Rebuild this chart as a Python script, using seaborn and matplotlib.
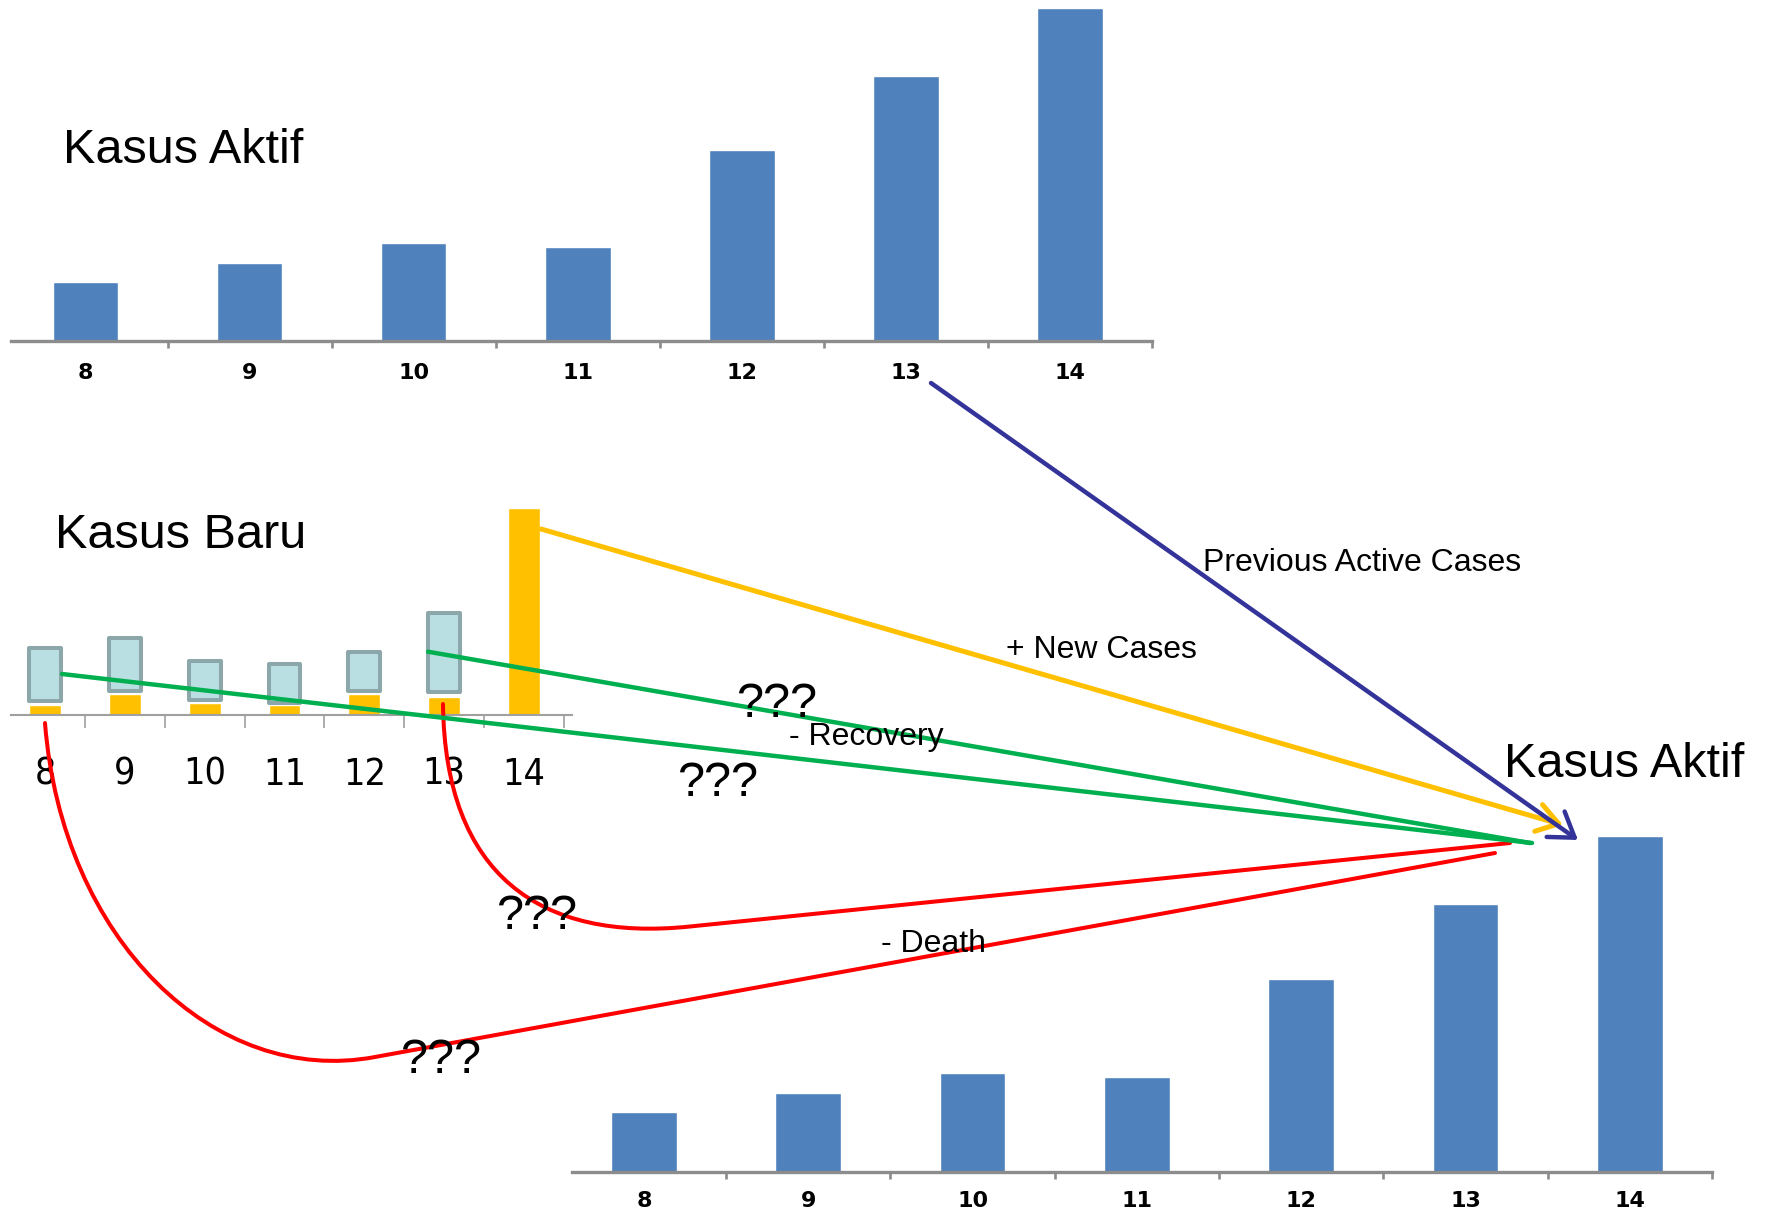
import numpy as np
import matplotlib
matplotlib.use("Agg")
import matplotlib.pyplot as plt
import seaborn as sns
from matplotlib.path import Path
from matplotlib.patches import PathPatch, FancyArrowPatch, ArrowStyle

# data (arbitrary units)
days = ["8", "9", "10", "11", "12", "13", "14"]
active_cases = [53, 70, 87, 84, 170, 236, 296]
new_cases = [10, 21, 12, 10, 21, 18, 207]
box_bottom = [14, 24, 15, 12, 24, 23]
box_top = [67, 77, 54, 51, 63, 102]

W, H = 1767, 1213
blue = "#4F81BD"
orange = "#FFC000"
green = "#00B050"
red = "#FF0000"
navy = "#333399"

sns.set_theme(style="white")
plt.rcParams['font.family'] = ['Liberation Sans', 'DejaVu Sans']
plt.rcParams['text.color'] = 'black'

fig = plt.figure(figsize=(W / 100, H / 100), dpi=100)


def bar_axes(px_left, px_right, px_base, px_height):
    ax = fig.add_axes([px_left / W, (H - px_base) / H, (px_right - px_left) / W, px_height / H])
    ax.patch.set_alpha(0)
    for s in ["top", "right", "left"]:
        ax.spines[s].set_visible(False)
    return ax


def style_axis(ax, xlim, ymax, lw, col, tick_len, lab_font, lab_size, lab_pad,
               weight="normal", stretch="normal"):
    ax.set_xlim(*xlim)
    ax.set_ylim(0, ymax)
    ax.set_yticks([])
    ax.set_xlabel("")
    ax.set_ylabel("")
    ax.spines["bottom"].set_color(col)
    ax.spines["bottom"].set_linewidth(lw)
    ax.set_xticks(range(len(days)))
    ax.set_xticklabels(days, fontsize=lab_size, family=lab_font, fontweight=weight,
                       fontstretch=stretch, color="black")
    ax.set_xticks(np.arange(len(days)) + 0.5, minor=True)
    ax.tick_params(axis="x", which="major", bottom=True, length=0, pad=lab_pad)
    ax.tick_params(axis="x", which="minor", bottom=True, length=tick_len, width=lw * 0.8,
                   color=col, direction="out")


# top "Kasus Aktif" chart
ax_top = bar_axes(11, 1152, 341.5, 338)
sns.barplot(x=days, y=active_cases, color=blue, saturation=1, width=0.4, errorbar=None, ax=ax_top)
style_axis(ax_top, (-0.454, 6.5), 300, 2.4, "#8c8c8c", 5, ["DejaVu Sans"], 16, 15.5, "bold")

# bottom-right "Kasus Aktif" chart
ax_bot = bar_axes(572, 1712, 1172, 340.5)
sns.barplot(x=days, y=active_cases, color=blue, saturation=1, width=0.4, errorbar=None, ax=ax_bot)
style_axis(ax_bot, (-0.438, 6.5), 300, 2.4, "#8c8c8c", 5, ["DejaVu Sans"], 16, 13.5, "bold")

# "Kasus Baru" chart
ax_new = bar_axes(11, 572, 715, 220)
sns.barplot(x=days, y=new_cases, color=orange, saturation=1, width=0.4, errorbar=None, ax=ax_new)
box_h = [t - b for t, b in zip(box_top, box_bottom)]
ax_new.bar(np.arange(len(box_h)), box_h, bottom=box_bottom, width=0.4,
           color="#BADFE3", edgecolor="#8CA7A9", linewidth=2.9, joinstyle="round", zorder=3)
style_axis(ax_new, (-0.425, 6.6), 220, 1.5, "#a0a0a0", 9.5,
           ["Liberation Sans Narrow", "DejaVu Sans"], 27, 30, stretch="condensed")

# overlay in pixel coordinates for arrows and labels
ax0 = fig.add_axes([0, 0, 1, 1], zorder=10)
ax0.set_xlim(0, W)
ax0.set_ylim(H, 0)
ax0.axis("off")
ax0.patch.set_alpha(0)

# green recovery lines
ax0.plot([62, 1532], [674, 843], color=green, lw=3.2, solid_capstyle="round")
ax0.plot([428, 1530], [651.7, 843], color=green, lw=3.2, solid_capstyle="round")

# red death curves
C = [Path.MOVETO, Path.CURVE4, Path.CURVE4, Path.CURVE4, Path.LINETO]
curve1 = Path([(443, 704), (445, 875), (540, 942), (690, 926.5), (1510, 843)], C)
curve2 = Path([(45, 723), (62, 940), (215, 1087), (375, 1057), (1495, 853)], C)
for p in [curve1, curve2]:
    ax0.add_patch(PathPatch(p, facecolor="none", edgecolor=red, lw=2.9, capstyle="round"))

# arrows
head = ArrowStyle("->", head_length=0.6, head_width=0.4)
ax0.add_patch(FancyArrowPatch((541, 529), (1563, 825), arrowstyle=head, mutation_scale=25,
                              color=orange, lw=3.6, shrinkA=0, shrinkB=0, capstyle="round",
                              joinstyle="round"))
ax0.add_patch(FancyArrowPatch((931, 383), (1578, 840), arrowstyle=head, mutation_scale=28,
                              color=navy, lw=3.2, shrinkA=0, shrinkB=0, capstyle="round",
                              joinstyle="round"))

# titles
ax0.text(63, 163, "Kasus Aktif", fontsize=35, va="baseline", color="black")
ax0.text(55, 548, "Kasus Baru", fontsize=35, va="baseline", color="black")
ax0.text(1504, 777, "Kasus Aktif", fontsize=35, va="baseline", color="black")

# flow labels
ax0.text(1203, 571, "Previous Active Cases", fontsize=23, va="baseline", color="black")
ax0.text(1006, 658, "+ New Cases", fontsize=23, va="baseline", color="black")
ax0.text(789, 745, "- Recovery", fontsize=23, va="baseline", color="black")
ax0.text(881, 952, "- Death", fontsize=23, va="baseline", color="black")
for x, y in [(736, 717), (677, 796), (496, 929), (400, 1073)]:
    ax0.text(x, y, "???", fontsize=35, va="baseline", color="black")

fig.savefig("out.png", dpi=100)
